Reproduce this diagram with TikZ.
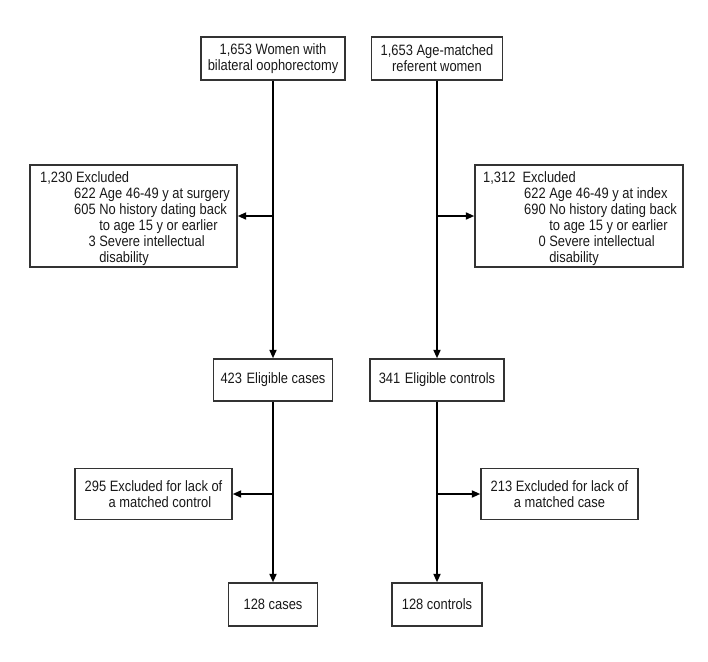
\documentclass[tikz,border=0pt]{standalone}
\usepackage{fontspec}
\setmainfont{Liberation Sans}[FakeStretch=0.86]
\usetikzlibrary{arrows.meta}
\tikzset{
  box/.style={draw=black!80, line width=1.4pt, inner sep=0pt, align=center,
              font=\fontsize{15}{16}\selectfont, text=black!90},
  txt/.style={inner sep=0pt, anchor=base west, font=\fontsize{15}{16}\selectfont, text=black!90},
  arr/.style={draw=black, line width=1.9pt, -{Triangle[length=8.5pt,width=7pt]}}
}
\begin{document}
\begin{tikzpicture}[x=1pt,y=-1pt]
\useasboundingbox (0,0) rectangle (708,661);
% top boxes
\node[box, minimum width=144pt, minimum height=43pt] (top1) at (273,58.5) {1,653 Women with\\bilateral oophorectomy};
\node[box, minimum width=131pt, minimum height=43pt] (top2) at (437,58.5) {1,653 Age-matched\\referent women};
% exclusion boxes
\node[box, minimum width=207pt, minimum height=102pt] (ex1) at (133.5,216) {};
\node[box, minimum width=208pt, minimum height=102pt] (ex2) at (579,216) {};
\node[txt] (ex1h) at (40,182.5) {1,230 Excluded};
\node[txt] (ex1t) at (74,198.5) {\begin{tabular}[t]{@{}r@{\ }l@{}}622 & Age 46-49 y at surgery\\605 & No history dating back\\ & to age 15 y or earlier\\3 & Severe intellectual\\ & disability\end{tabular}};
\node[txt] (ex2h) at (483,182.5) {1,312\ \ Excluded};
\node[txt] (ex2t) at (524,198.5) {\begin{tabular}[t]{@{}r@{\ }l@{}}622 & Age 46-49 y at index\\690 & No history dating back\\ & to age 15 y or earlier\\0 & Severe intellectual\\ & disability\end{tabular}};
% eligible
\node[box, minimum width=119pt, minimum height=42pt] (el1) at (273,380) {423\hspace{4.5pt}Eligible cases};
\node[box, minimum width=134pt, minimum height=42pt] (el2) at (437,380) {341\hspace{4.5pt}Eligible controls};
% excluded for lack of match
\node[box, minimum width=157pt, minimum height=51pt, align=left] (lk1) at (153.5,494) {295 Excluded for lack of\\\hspace*{24pt}a matched control};
\node[box, minimum width=157pt, minimum height=51pt] (lk2) at (559.5,494) {213 Excluded for lack of\\a matched case};
% final
\node[box, minimum width=89pt, minimum height=43pt] (fin1) at (273,604.5) {128 cases};
\node[box, minimum width=90pt, minimum height=43pt] (fin2) at (437,604.5) {128 controls};
% connectors
\draw[arr] (top1.south) -- (el1.north);
\draw[arr] (top1.south |- ex1.east) -- (ex1.east);
\draw[arr] (top2.south) -- (el2.north);
\draw[arr] (top2.south |- ex2.west) -- (ex2.west);
\draw[arr] (el1.south) -- (fin1.north);
\draw[arr] (el1.south |- lk1.east) -- (lk1.east);
\draw[arr] (el2.south) -- (fin2.north);
\draw[arr] (el2.south |- lk2.west) -- (lk2.west);
\end{tikzpicture}
\end{document}
